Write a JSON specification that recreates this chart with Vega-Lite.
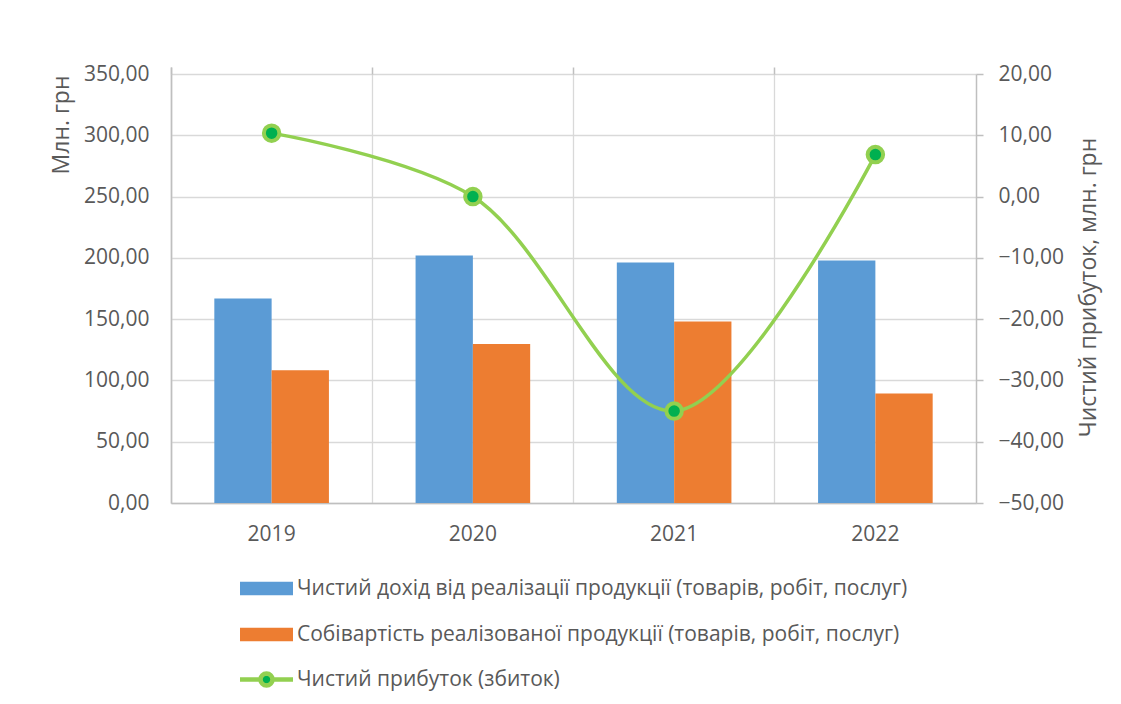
{
  "$schema": "https://vega.github.io/schema/vega-lite/v6.json",
  "width": 805,
  "height": 429,
  "autosize": {"type": "none"},
  "padding": {"left": 171, "top": 74, "right": 145, "bottom": 201},
  "background": "white",
  "config": {
    "font": "Open Sans",
    "view": {"stroke": null},
    "axis": {"labelColor": "#595959", "titleColor": "#595959", "labelFont": "Open Sans", "titleFont": "Open Sans", "titleFontWeight": "normal", "gridColor": "#D9D9D9", "gridWidth": 1.3, "domainColor": "#BFBFBF", "domainWidth": 1.5, "tickColor": "#BFBFBF", "tickWidth": 1.5}
  },
  "datasets": {
    "bars": [
      {"year": "2019", "series": "Чистий дохід від реалізації продукції (товарів, робіт, послуг)", "value": 166.8},
      {"year": "2019", "series": "Собівартість реалізованої продукції (товарів, робіт, послуг)", "value": 108.4},
      {"year": "2020", "series": "Чистий дохід від реалізації продукції (товарів, робіт, послуг)", "value": 201.9},
      {"year": "2020", "series": "Собівартість реалізованої продукції (товарів, робіт, послуг)", "value": 129.8},
      {"year": "2021", "series": "Чистий дохід від реалізації продукції (товарів, робіт, послуг)", "value": 196.2},
      {"year": "2021", "series": "Собівартість реалізованої продукції (товарів, робіт, послуг)", "value": 148.1},
      {"year": "2022", "series": "Чистий дохід від реалізації продукції (товарів, робіт, послуг)", "value": 197.8},
      {"year": "2022", "series": "Собівартість реалізованої продукції (товарів, робіт, послуг)", "value": 89.4}
    ],
    "profit": [
      {"year": "2019", "profit": 10.35},
      {"year": "2020", "profit": 0.0},
      {"year": "2021", "profit": -35.0},
      {"year": "2022", "profit": 6.85}
    ]
  },
  "layer": [
    {
      "data": {"name": "bars"},
      "mark": {"type": "bar", "width": {"band": 1}},
      "encoding": {
        "x": {"field": "year", "type": "nominal", "scale": {"paddingInner": 0, "paddingOuter": 0},
          "axis": {"orient": "bottom", "title": null, "labelAngle": 0, "labelFontSize": 21, "labelPadding": 20, "ticks": false, "grid": false, "domain": true}},
        "xOffset": {"field": "series", "type": "nominal", "sort": null,
          "scale": {"domain": ["Чистий дохід від реалізації продукції (товарів, робіт, послуг)", "Собівартість реалізованої продукції (товарів, робіт, послуг)"], "paddingInner": 0, "paddingOuter": 0.756}},
        "y": {"field": "value", "type": "quantitative", "scale": {"domain": [0, 350], "nice": false, "zero": true},
          "axis": {"orient": "left", "values": [0, 50, 100, 150, 200, 250, 300, 350], "labelExpr": "replace(format(datum.value, '.2f'), '.', ',')", "labelFontSize": 21, "labelPadding": 22, "ticks": false, "grid": true, "domain": true,
            "title": "Млн. грн", "titleFontSize": 23, "titleAngle": 270, "titleAnchor": "end", "titleAlign": "right", "titleBaseline": "middle", "titleX": -110, "titleY": 1}},
        "color": {"field": "series", "type": "nominal",
          "scale": {"domain": ["Чистий дохід від реалізації продукції (товарів, робіт, послуг)", "Собівартість реалізованої продукції (товарів, робіт, послуг)", "Чистий прибуток (збиток)"], "range": ["#5B9BD5", "#ED7D31", "#00B050"]},
          "legend": {"orient": "none", "legendX": 83, "legendY": 502, "direction": "vertical", "title": null, "padding": 0,
            "symbolSize": 400, "labelOffset": 18, "rowPadding": 13, "labelFontSize": 21, "labelColor": "#595959", "labelFont": "Open Sans", "labelLimit": 900,
            "encode": {"symbols": {"update": {
              "shape": {"signal": "datum.value == 'Чистий прибуток (збиток)' ? 'M-2.65,0H-0.6M0.6,0H2.65M0.6,0L0.5543,0.2296L0.4243,0.4243L0.2296,0.5543L0,0.6L-0.2296,0.5543L-0.4243,0.4243L-0.5543,0.2296L-0.6,0L-0.5543,-0.2296L-0.4243,-0.4243L-0.2296,-0.5543L0,-0.6L0.2296,-0.5543L0.4243,-0.4243L0.5543,-0.2296Z' : 'M-2.65,-0.68H2.65V0.68H-2.65Z'"},
              "fill": {"signal": "datum.value == 'Чистий прибуток (збиток)' ? '#00B050' : (datum.value == 'Собівартість реалізованої продукції (товарів, робіт, послуг)' ? '#ED7D31' : '#5B9BD5')"},
              "stroke": {"signal": "datum.value == 'Чистий прибуток (збиток)' ? '#92D050' : 'transparent'"},
              "strokeWidth": {"value": 4.5},
              "opacity": {"value": 1}
            }}}}
        }
      }
    },
    {
      "data": {"name": "profit"},
      "mark": {"type": "line", "interpolate": "catmull-rom", "strokeWidth": 3.5, "color": "#92D050"},
      "encoding": {
        "x": {"field": "year", "type": "nominal",
          "axis": {"orient": "top", "title": null, "labels": false, "domain": false, "ticks": true, "tickSize": 7, "bandPosition": 0, "tickExtra": true, "grid": true}},
        "y": {"field": "profit", "type": "quantitative", "scale": {"domain": [-50, 20], "nice": false, "zero": false},
          "axis": {"orient": "right", "values": [-50, -40, -30, -20, -10, 0, 10, 20], "labelExpr": "replace(format(datum.value, '.2f'), '.', ',')", "labelFontSize": 21, "labelPadding": 15, "tickSize": 7, "ticks": true, "grid": false, "domain": true,
            "title": "Чистий прибуток, млн. грн", "titleFontSize": 23, "titleAngle": 270, "titleAlign": "center", "titleBaseline": "middle", "titleX": 112, "titleY": 213}}
      }
    },
    {
      "data": {"name": "profit"},
      "mark": {"type": "point", "filled": true, "fill": "#00B050", "stroke": "#92D050", "strokeWidth": 4, "size": 240, "opacity": 1, "fillOpacity": 1, "strokeOpacity": 1},
      "encoding": {
        "x": {"field": "year", "type": "nominal", "axis": null},
        "y": {"field": "profit", "type": "quantitative", "scale": {"domain": [-50, 20], "nice": false, "zero": false}, "axis": null}
      }
    }
  ],
  "resolve": {"scale": {"y": "independent"}, "axis": {"x": "independent"}}
}
